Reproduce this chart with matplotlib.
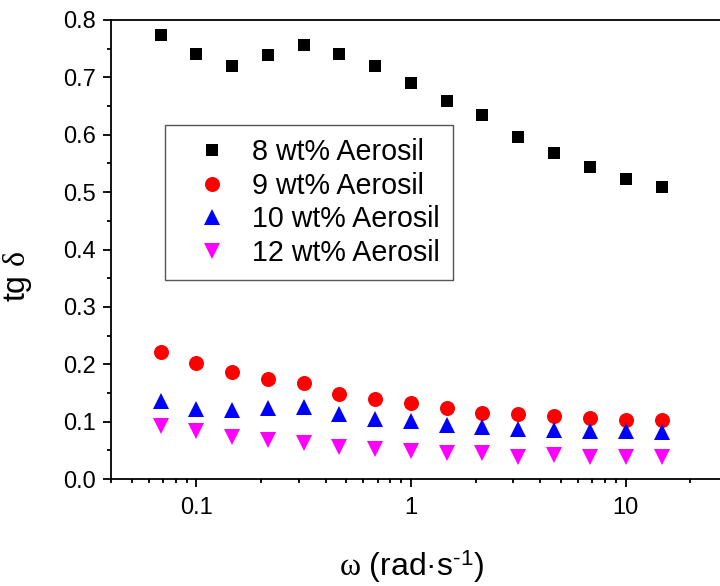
import matplotlib
matplotlib.use('Agg')
import matplotlib.pyplot as plt
from matplotlib.ticker import FixedLocator, LogLocator, MultipleLocator, FuncFormatter, NullFormatter

plt.rcParams['font.family'] = ['Liberation Sans', 'DejaVu Sans']
plt.rcParams['mathtext.fontset'] = 'custom'
plt.rcParams['mathtext.rm'] = 'Liberation Sans'
plt.rcParams['mathtext.it'] = 'Liberation Serif'
plt.rcParams['mathtext.bf'] = 'Liberation Sans:bold'

# ---- data ----
omega = [0.0681, 0.1, 0.147, 0.215, 0.316, 0.464, 0.681, 1.0, 1.47, 2.15, 3.16, 4.64, 6.81, 10.0, 14.7]
tg_8 = [0.774, 0.741, 0.719, 0.739, 0.756, 0.741, 0.719, 0.690, 0.659, 0.634, 0.596, 0.568, 0.544, 0.523, 0.509]
tg_9 = [0.222, 0.203, 0.186, 0.174, 0.167, 0.148, 0.140, 0.132, 0.123, 0.115, 0.113, 0.109, 0.106, 0.103, 0.103]
tg_10 = [0.136, 0.122, 0.120, 0.123, 0.125, 0.113, 0.105, 0.101, 0.094, 0.090, 0.088, 0.085, 0.084, 0.084, 0.082]
tg_12 = [0.092, 0.084, 0.074, 0.068, 0.062, 0.056, 0.052, 0.049, 0.046, 0.045, 0.039, 0.041, 0.039, 0.039, 0.039]
labels = ['8 wt% Aerosil', '9 wt% Aerosil', '10 wt% Aerosil', '12 wt% Aerosil']
x_ticks = [0.1, 1, 10]
x_tick_labels = ['0.1', '1', '10']
y_ticks = [0.0, 0.1, 0.2, 0.3, 0.4, 0.5, 0.6, 0.7, 0.8]

fig = plt.figure(figsize=(7.2, 5.86), dpi=100)
W, H = 720, 586
left, right, top, bottom = 111, 728, 20, 479
ax = fig.add_axes([left / W, 1 - bottom / H, (right - left) / W, (bottom - top) / H])

ax.plot(omega, tg_8, linestyle='none', marker='s', ms=9.2, color='black', mew=0, label=labels[0])
ax.plot(omega, tg_9, linestyle='none', marker='o', ms=10.8, color='#ff0000', mew=0, label=labels[1])
ax.plot(omega, tg_10, linestyle='none', marker='^', ms=11.5, color='#0000ff', mew=0, label=labels[2])
ax.plot(omega, tg_12, linestyle='none', marker='v', ms=11.5, color='#ff00ff', mew=0, label=labels[3])

ax.set_xscale('log')
ax.set_xlim(0.04, 30)
ax.set_ylim(0, 0.8)

ax.xaxis.set_major_locator(FixedLocator(x_ticks))
ax.xaxis.set_major_formatter(FuncFormatter(lambda v, p: x_tick_labels[x_ticks.index(v)] if v in x_ticks else ''))
ax.xaxis.set_minor_locator(LogLocator(base=10, subs=[2, 3, 4, 5, 6, 7, 8, 9], numticks=20))
ax.xaxis.set_minor_formatter(NullFormatter())
ax.yaxis.set_major_locator(FixedLocator(y_ticks))
ax.yaxis.set_major_formatter(FuncFormatter(lambda v, p: f'{v:.1f}'))
ax.yaxis.set_minor_locator(MultipleLocator(0.05))

for s in ax.spines.values():
    s.set_linewidth(1.3)
ax.tick_params(which='major', direction='out', length=5.8, width=1.3, labelsize=17)
ax.tick_params(which='minor', direction='out', length=3.0, width=1.3)
ax.tick_params(axis='x', which='major', pad=7)
ax.tick_params(axis='y', which='major', pad=5)

ax.set_xlabel(r'$\omega$ (rad·s$^{\text{-1}}$)', fontsize=23)
ax.set_ylabel(r'tg $\delta$', fontsize=23)
ax.xaxis.set_label_coords(0.487, -0.150)
ax.yaxis.set_label_coords(-0.125, 0.442)

leg = ax.legend(loc='upper left', bbox_to_anchor=((165 - left) / (right - left), (bottom - 125) / (bottom - top)),
                borderaxespad=0, fontsize=20.6, frameon=True, fancybox=False, shadow=False,
                borderpad=0.45, labelspacing=0.2, handlelength=2.4, handletextpad=0.2,
                numpoints=1, framealpha=1)
leg.get_frame().set_edgecolor('#555555')
leg.get_frame().set_linewidth(1.0)

fig.savefig('out.png', dpi=100)
